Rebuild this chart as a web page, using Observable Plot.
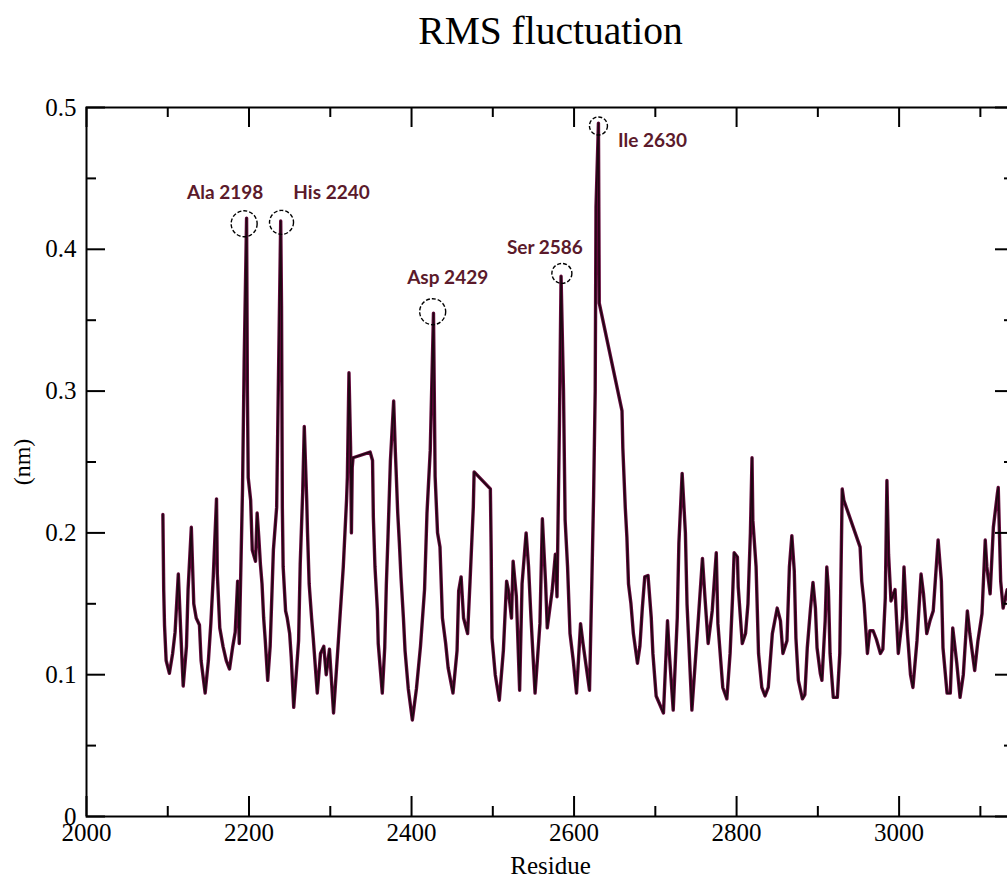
<!DOCTYPE html>
<html><head><meta charset="utf-8">
<script src="https://cdn.jsdelivr.net/npm/d3@7"></script>
<script src="https://cdn.jsdelivr.net/npm/@observablehq/plot@0.6"></script>
<style>html,body{margin:0;padding:0;overflow:hidden;background:#fff} svg{max-width:none !important}</style>
</head><body><div id="chart"></div>
<script>
const residues = [2094,2095,2096,2098,2102,2106,2109,2113,2116,2119,2123,2125,2129,2132,2135,2139,2141,2146,2150,2153,2156,2160,2161,2164,2168,2172,2176,2180,2183,2186,2188,2192,2194,2197,2198,2199,2202,2204,2208,2210,2212,2214,2216,2218,2220,2223,2226,2230,2234,2236,2239,2240,2241,2242,2245,2247,2250,2252,2255,2258,2261,2263,2266,2268,2271,2272,2274,2277,2279,2284,2288,2292,2295,2299,2304,2310,2316,2320,2321,2323,2325,2326,2327,2328,2349,2352,2353,2355,2358,2359,2364,2367,2369,2371,2374,2378,2380,2381,2383,2385,2387,2390,2392,2396,2401,2406,2411,2416,2419,2423,2427,2429,2432,2435,2438,2442,2445,2451,2456,2458,2461,2464,2469,2472,2476,2477,2497,2498,2499,2503,2508,2513,2517,2519,2523,2525,2529,2533,2536,2541,2544,2547,2552,2558,2561,2565,2567,2573,2577,2579,2582,2584,2587,2589,2592,2595,2599,2603,2608,2611,2619,2622,2624,2626,2627,2630,2631,2659,2660,2663,2665,2667,2670,2673,2678,2681,2684,2687,2691,2695,2697,2701,2710,2715,2717,2722,2727,2729,2733,2737,2739,2745,2753,2758,2761,2765,2770,2775,2777,2783,2788,2792,2795,2797,2801,2802,2807,2811,2814,2817,2819,2820,2824,2827,2831,2835,2839,2844,2850,2854,2857,2862,2865,2868,2871,2873,2876,2881,2884,2887,2891,2894,2897,2899,2903,2905,2909,2911,2913,2915,2919,2924,2927,2930,2932,2952,2954,2957,2961,2964,2968,2972,2977,2980,2983,2985,2987,2990,2995,2999,3004,3006,3010,3014,3017,3022,3027,3030,3034,3038,3042,3048,3052,3054,3059,3063,3066,3071,3075,3079,3084,3087,3093,3097,3102,3106,3108,3112,3116,3121,3122,3125,3128,3133,3137];
const rmsf = [0.213,0.16,0.135,0.11,0.101,0.115,0.13,0.171,0.13,0.092,0.12,0.16,0.204,0.15,0.14,0.135,0.11,0.087,0.11,0.136,0.169,0.224,0.171,0.133,0.12,0.11,0.104,0.12,0.13,0.166,0.122,0.231,0.32,0.422,0.3,0.239,0.223,0.188,0.18,0.214,0.197,0.178,0.164,0.14,0.124,0.096,0.12,0.188,0.218,0.3,0.42,0.36,0.218,0.176,0.145,0.14,0.129,0.112,0.077,0.1,0.124,0.178,0.228,0.275,0.223,0.2,0.164,0.14,0.126,0.087,0.115,0.12,0.1,0.118,0.073,0.124,0.176,0.223,0.239,0.313,0.26,0.2,0.246,0.253,0.257,0.251,0.211,0.176,0.145,0.122,0.087,0.119,0.164,0.197,0.251,0.293,0.258,0.244,0.214,0.193,0.169,0.14,0.117,0.09,0.068,0.09,0.12,0.16,0.214,0.258,0.355,0.24,0.2,0.19,0.14,0.122,0.105,0.087,0.117,0.159,0.169,0.14,0.129,0.166,0.218,0.243,0.231,0.188,0.126,0.1,0.082,0.117,0.166,0.16,0.14,0.18,0.155,0.089,0.164,0.2,0.176,0.14,0.087,0.136,0.21,0.164,0.133,0.159,0.185,0.155,0.277,0.381,0.3,0.209,0.176,0.129,0.11,0.087,0.136,0.122,0.089,0.169,0.225,0.3,0.43,0.489,0.362,0.286,0.26,0.218,0.197,0.164,0.15,0.129,0.108,0.12,0.147,0.169,0.17,0.14,0.115,0.085,0.073,0.138,0.117,0.075,0.14,0.193,0.242,0.2,0.15,0.075,0.14,0.182,0.155,0.122,0.145,0.186,0.136,0.091,0.083,0.115,0.154,0.186,0.183,0.162,0.122,0.129,0.15,0.2,0.253,0.209,0.176,0.115,0.091,0.085,0.091,0.129,0.147,0.138,0.115,0.124,0.176,0.198,0.173,0.126,0.096,0.083,0.086,0.119,0.147,0.165,0.147,0.119,0.101,0.096,0.138,0.176,0.16,0.115,0.084,0.084,0.115,0.231,0.223,0.19,0.166,0.15,0.115,0.131,0.131,0.125,0.115,0.118,0.154,0.237,0.185,0.152,0.16,0.115,0.14,0.176,0.131,0.1,0.091,0.124,0.171,0.157,0.129,0.138,0.145,0.195,0.166,0.119,0.087,0.087,0.133,0.108,0.084,0.1,0.145,0.129,0.103,0.124,0.143,0.195,0.176,0.157,0.204,0.228,0.232,0.166,0.147,0.16,0.14];

const xMajorTicks = [2000,2200,2400,2600,2800,3000];
const xMinorTicks = [2100,2300,2500,2700,2900,3100];
const yMajorTicks = [0,0.1,0.2,0.3,0.4,0.5];
const yMinorTicks = [0.05,0.15,0.25,0.35,0.45];

const labelNames = ["Ala 2198","His 2240","Asp 2429","Ser 2586","Ile 2630"];
const circleResidues = [2194,2240,2426,2585,2630];
const circleValues = [0.418,0.419,0.356,0.383,0.487];

// styling (pixels)
const circleRadii = [13,12,13,10,9];
const labelDx = [-19,50,15,-17,54];
const labelDy = [-31,-29,-34,-25,15];

const W = 1030, H = 877, mL = 86, mR = 16, mT = 107, mB = 61;
const pw = W - mL - mR, ph = H - mT - mB;
const serif = "'Liberation Serif','Times New Roman',serif";

const data = residues.map((r, i) => ({r, v: rmsf[i]}));
const ann = labelNames.map((name, i) => ({name, r: circleResidues[i], v: circleValues[i], rad: circleRadii[i]}));

const tickStyle = {stroke: "#000", strokeWidth: 2};

const chart = Plot.plot({
  width: W, height: H,
  marginLeft: mL, marginRight: mR, marginTop: mT, marginBottom: mB,
  style: {fontFamily: serif, background: "#fff", overflow: "visible", maxWidth: "none"},
  x: {domain: [2000, 3142]},
  y: {domain: [0, 0.5]},
  r: {type: "identity"},
  marks: [
    Plot.line(data, {x: "r", y: "v", stroke: "#640a3c", strokeWidth: 3.4}),
    Plot.line(data, {x: "r", y: "v", stroke: "#1c0811", strokeWidth: 1.5}),
    // ticks, inward on all four sides
    Plot.ruleX(xMajorTicks, {x: d => d, insetTop: ph - 20, ...tickStyle}),
    Plot.ruleX(xMinorTicks, {x: d => d, insetTop: ph - 10, ...tickStyle}),
    Plot.ruleX(xMajorTicks, {x: d => d, insetBottom: ph - 20, ...tickStyle}),
    Plot.ruleX(xMinorTicks, {x: d => d, insetBottom: ph - 10, ...tickStyle}),
    Plot.ruleY(yMajorTicks, {y: d => d, insetRight: pw - 19, ...tickStyle}),
    Plot.ruleY(yMinorTicks, {y: d => d, insetRight: pw - 10, ...tickStyle}),
    Plot.ruleY(yMajorTicks, {y: d => d, insetLeft: pw - 19, ...tickStyle}),
    Plot.ruleY(yMinorTicks, {y: d => d, insetLeft: pw - 10, ...tickStyle}),
    Plot.frame({stroke: "#000", strokeWidth: 2}),
    Plot.axisX(xMajorTicks, {anchor: "bottom", tickSize: 0, tickPadding: 7, label: null, fontSize: 25, fontFamily: serif, fill: "#000",
      tickFormat: d => String(d)}),
    Plot.axisY(yMajorTicks, {anchor: "left", tickSize: 0, tickPadding: 10, label: null, fontSize: 25, fontFamily: serif, fill: "#000",
      tickFormat: d => d === 0 ? "0" : d.toFixed(1)}),
    // annotations
    Plot.dot(ann, {x: "r", y: "v", r: "rad", stroke: "#000", strokeWidth: 1.4, strokeDasharray: "4,2", fill: "none"}),
    ...ann.map((a, i) => Plot.text([a], {x: "r", y: "v", text: "name", dx: labelDx[i], dy: labelDy[i],
      fontFamily: "Lato, 'Open Sans', sans-serif", fontWeight: "bold", fontSize: 19, fill: "#5b1a2b"})),
    // titles
    Plot.text(["RMS fluctuation"], {text: d => d, frameAnchor: "top", lineAnchor: "middle", textAnchor: "middle", dy: -76, fontSize: 39.5, fontFamily: serif, fill: "#000"}),
    Plot.text(["Residue"], {text: d => d, frameAnchor: "bottom", lineAnchor: "middle", textAnchor: "middle", dy: 49, fontSize: 25, fontFamily: serif, fill: "#000"}),
    Plot.text(["(nm)"], {text: d => d, frameAnchor: "left", lineAnchor: "middle", textAnchor: "middle", dx: -64, rotate: -90, fontSize: 24, fontFamily: serif, fill: "#000"})
  ]
});
document.getElementById("chart").appendChild(chart);
</script>
</body></html>
